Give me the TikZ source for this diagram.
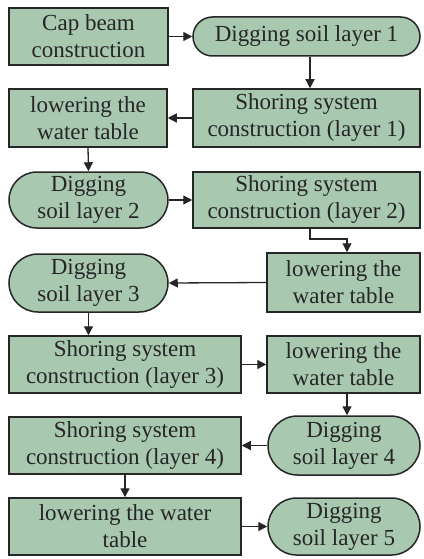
\documentclass[tikz,border=0pt]{standalone}
\usepackage{fontspec}
\setmainfont{Liberation Serif}
\newfontfamily\labelfont{Liberation Serif}
\usetikzlibrary{shapes.misc,arrows.meta}
\definecolor{sage}{HTML}{A8C8AF}
\definecolor{ink}{HTML}{262626}
\tikzset{
  every node/.style={font=\labelfont\fontsize{23}{27}\selectfont, text=ink, align=center, inner sep=0pt},
  stepbox/.style={draw=ink, line width=1.5pt, fill=sage, rectangle},
  pill/.style={draw=ink, line width=1.5pt, fill=sage, rounded rectangle, rounded rectangle arc length=180},
  arr/.style={draw=ink, line width=1.3pt, -{Triangle[length=9pt,width=9pt]}},
}
\begin{document}
\begin{tikzpicture}[x=1pt,y=-1pt]
\useasboundingbox (0,0) rectangle (423,559);

% row 1
\node[stepbox, minimum width=159pt, minimum height=57pt] (cap) at (88.5,36.5) {Cap beam\\construction};
\node[pill, minimum width=227pt, minimum height=39pt] (dig1) at (306.5,36.5) {Digging soil layer 1};
% row 2
\node[stepbox, minimum width=158pt, minimum height=58pt] (low1) at (88,118) {lowering the\\water table};
\node[stepbox, minimum width=227pt, minimum height=58pt] (sh1) at (306.5,118) {Shoring system\\construction (layer 1)};
% row 3
\node[pill, minimum width=159pt, minimum height=56pt] (dig2) at (88.5,200) {Digging\\soil layer 2};
\node[stepbox, minimum width=227pt, minimum height=56pt] (sh2) at (306.5,200) {Shoring system\\construction (layer 2)};
% row 4
\node[pill, minimum width=159pt, minimum height=58pt] (dig3) at (88.5,283) {Digging\\soil layer 3};
\node[stepbox, minimum width=153pt, minimum height=59pt] (low3) at (343.5,282.5) {lowering the\\water table};
% row 5
\node[stepbox, minimum width=232pt, minimum height=57pt] (sh3) at (125,364.5) {Shoring system\\construction (layer 3)};
\node[stepbox, minimum width=153pt, minimum height=57pt] (low4) at (343.5,364.5) {lowering the\\water table};
% row 6
\node[stepbox, minimum width=232pt, minimum height=57pt] (sh4) at (125,445.5) {Shoring system\\construction (layer 4)};
\node[pill, minimum width=152pt, minimum height=59pt] (dig4) at (344,445.5) {Digging\\soil layer 4};
% row 7
\node[stepbox, minimum width=232pt, minimum height=57pt] (low5) at (125,526.5) {lowering the water\\table};
\node[pill, minimum width=152pt, minimum height=57pt] (dig5) at (344,526.5) {Digging\\soil layer 5};

% connectors
\draw[arr] (cap.east) -- (dig1.west);
\draw[arr] (dig1.south -| 310,0) -- (sh1.north -| 310,0);
\draw[arr] (sh1.west) -- (low1.east);
\draw[arr] (low1.south) -- (dig2.north);
\draw[arr] (dig2.east) -- (sh2.west);
\coordinate (bend) at (347,239);
\draw[arr] (sh2.south -| 310,0) |- (bend) -- (low3.north -| bend);
\draw[arr] (low3.west) -- (dig3.east);
\draw[arr] (dig3.south) -- (sh3.north -| dig3.south);
\draw[arr] (sh3.east) -- (low4.west);
\draw[arr] (low4.south -| 347,0) -- (dig4.north -| 347,0);
\draw[arr] (dig4.west) -- (sh4.east);
\draw[arr] (sh4.south) -- (low5.north);
\draw[arr] (low5.east) -- (dig5.west);
\end{tikzpicture}
\end{document}
